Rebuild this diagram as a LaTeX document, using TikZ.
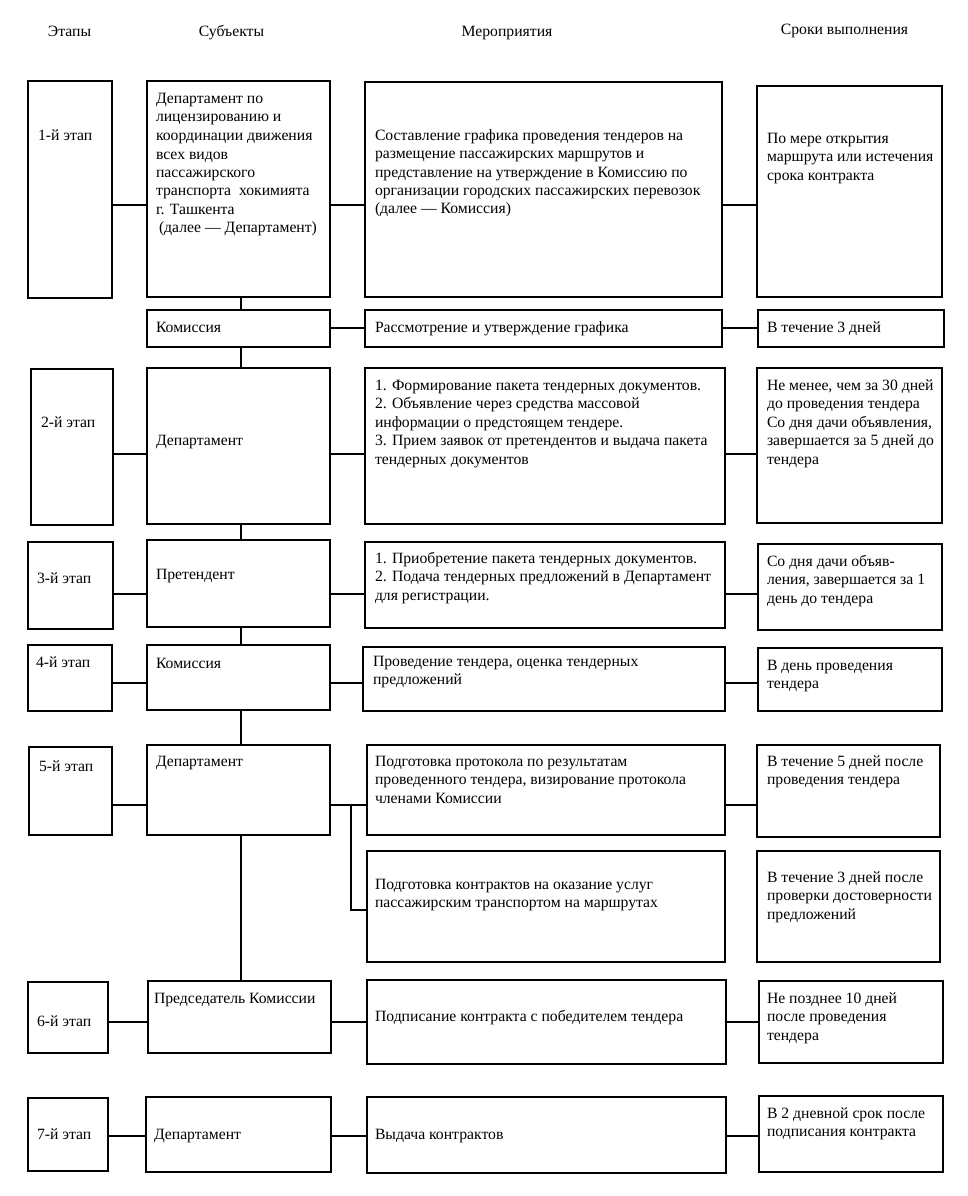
\documentclass[tikz,border=0pt]{standalone}
\usepackage{fontspec}
\setmainfont{Liberation Serif}
\newcommand\tl[1]{\begin{tabular}[t]{@{}l@{}}#1\end{tabular}}
\tikzset{
  bx/.style={draw, line width=2.2pt, rectangle, inner sep=0pt, outer sep=0pt, anchor=north west},
  tx/.style={inner sep=0pt, outer sep=0pt, anchor=base west, font=\fontsize{15.7}{18.5}\selectfont},
  hd/.style={inner sep=0pt, outer sep=0pt, anchor=base, font=\fontsize{15.7}{18.5}\selectfont},
  ln/.style={line width=2pt},
}
\newcommand\bx[5]{\node[bx, minimum width=#4-#2, minimum height=#5-#3] (#1) at (#2,#3) {};}
\begin{document}
\begin{tikzpicture}[x=1pt,y=-1pt]
\useasboundingbox (0,0) rectangle (967,1196);
% headers
\node[hd] (h1) at (69.5,37) {Этапы};
\node[hd] (h2) at (231.5,37) {Субъекты};
\node[hd] (h3) at (507,37) {Мероприятия};
\node[hd] (h4) at (844.5,35) {Сроки выполнения};
% boxes
\bx{st1}{28}{81}{112}{298}
\bx{su1}{147}{81}{330}{297}
\bx{ac1}{365}{82}{722}{297}
\bx{ti1}{757}{86}{942}{297}
\bx{suk}{147}{310}{330}{347}
\bx{ack}{365}{310}{722}{347}
\bx{tik}{758}{310}{944}{347}
\bx{st2}{31}{369}{113}{525}
\bx{su2}{147}{368}{330}{524}
\bx{ac2}{365}{368}{725}{524}
\bx{ti2}{757}{368}{942}{523}
\bx{st3}{28}{542}{113}{629}
\bx{su3}{147}{540}{330}{627}
\bx{ac3}{365}{542}{725}{628}
\bx{ti3}{758}{544}{942}{630}
\bx{st4}{28}{645}{112}{711}
\bx{su4}{147}{645}{330}{710}
\bx{ac4}{363}{647}{725}{711}
\bx{ti4}{758}{648}{942}{711}
\bx{st5}{29}{747}{112}{835}
\bx{su5}{147}{745}{330}{835}
\bx{aca}{367}{745}{725}{835}
\bx{tia}{757}{745}{940}{837}
\bx{acb}{367}{851}{725}{962}
\bx{tib}{757}{851}{940}{962}
\bx{st6}{28}{982}{108}{1053}
\bx{su6}{148}{981}{331}{1053}
\bx{ac6}{367}{980}{726}{1064}
\bx{ti6}{759}{981}{943}{1063}
\bx{st7}{28}{1098}{108}{1171}
\bx{su7}{146}{1097}{331}{1172}
\bx{ac7}{367}{1097}{726}{1173}
\bx{ti7}{759}{1096}{943}{1172}
% texts
\node[tx] (st1t) at (38,141) {1-й этап};
\node[tx] (su1t) at (156,103.5) {\tl{Департамент по\\лицензированию и\\координации движения\\всех видов\\пассажирского\\транспорта \ хокимията\\г. Ташкента\\\hspace{3pt}(далее — Департамент)}};
\node[tx] (ac1t) at (375,140) {\tl{Составление графика проведения тендеров на\\размещение пассажирских маршрутов и\\представление на утверждение в Комиссию по\\организации городских пассажирских перевозок\\(далее — Комиссия)}};
\node[tx] (ti1t) at (767,143) {\tl{По мере открытия\\маршрута или истечения\\срока контракта}};
\node[tx] (sukt) at (156,332) {Комиссия};
\node[tx] (ackt) at (375,332) {Рассмотрение и утверждение графика};
\node[tx] (tikt) at (767,332) {В течение 3 дней};
\node[tx] (st2t) at (41,427) {2-й этап};
\node[tx] (su2t) at (156,445) {Департамент};
\node[tx] (ac2t) at (375,390) {\tl{1. Формирование пакета тендерных документов.\\2. Объявление через средства массовой\\информации о предстоящем тендере.\\3. Прием заявок от претендентов и выдача пакета\\тендерных документов}};
\node[tx] (ti2t) at (767,390) {\tl{Не менее, чем за 30 дней\\до проведения тендера\\Со дня дачи объявления,\\завершается за 5 дней до\\тендера}};
\node[tx] (st3t) at (37,583) {3-й этап};
\node[tx] (su3t) at (156,579) {Претендент};
\node[tx] (ac3t) at (375,563) {\tl{1. Приобретение пакета тендерных документов.\\2. Подача тендерных предложений в Департамент\\для регистрации.}};
\node[tx] (ti3t) at (767,566) {\tl{Со дня дачи объяв-\\ления, завершается за 1\\день до тендера}};
\node[tx] (st4t) at (36,667) {4-й этап};
\node[tx] (su4t) at (156,668) {Комиссия};
\node[tx] (ac4t) at (373,666) {\tl{Проведение тендера, оценка тендерных\\предложений}};
\node[tx] (ti4t) at (767,670) {\tl{В день проведения\\тендера}};
\node[tx] (st5t) at (39,771) {5-й этап};
\node[tx] (su5t) at (156,766) {Департамент};
\node[tx] (acat) at (375,766) {\tl{Подготовка протокола по результатам\\проведенного тендера, визирование протокола\\членами Комиссии}};
\node[tx] (tiat) at (767,766) {\tl{В течение 5 дней после\\проведения тендера}};
\node[tx] (acbt) at (375,889) {\tl{Подготовка контрактов на оказание услуг\\пассажирским транспортом на маршрутах}};
\node[tx] (tibt) at (767,882) {\tl{В течение 3 дней после\\проверки достоверности\\предложений}};
\node[tx] (st6t) at (37,1026) {6-й этап};
\node[tx] (su6t) at (154,1003) {Председатель Комиссии};
\node[tx] (ac6t) at (375,1021) {Подписание контракта с победителем тендера};
\node[tx] (ti6t) at (767,1003) {\tl{Не позднее 10 дней\\после проведения\\тендера}};
\node[tx] (st7t) at (37,1139) {7-й этап};
\node[tx] (su7t) at (154,1139) {Департамент};
\node[tx] (ac7t) at (375,1139) {Выдача контрактов};
\node[tx] (ti7t) at (767,1118) {\tl{В 2 дневной срок после\\подписания контракта}};
% connector levels
\coordinate (r1) at (0,205);
\coordinate (rk) at (0,328);
\coordinate (r2) at (0,454);
\coordinate (r3) at (0,594);
\coordinate (r4) at (0,683);
\coordinate (r5) at (0,805);
\coordinate (r5b) at (0,910);
\coordinate (r6) at (0,1022);
\coordinate (r7) at (0,1136);
\coordinate (sp) at (241,0);
\coordinate (bp) at (351,0);
% horizontal connectors
\draw[ln] (st1.east |- r1) -- (su1.west |- r1);
\draw[ln] (su1.east |- r1) -- (ac1.west |- r1);
\draw[ln] (ac1.east |- r1) -- (ti1.west |- r1);
\draw[ln] (suk.east |- rk) -- (ack.west |- rk);
\draw[ln] (ack.east |- rk) -- (tik.west |- rk);
\draw[ln] (st2.east |- r2) -- (su2.west |- r2);
\draw[ln] (su2.east |- r2) -- (ac2.west |- r2);
\draw[ln] (ac2.east |- r2) -- (ti2.west |- r2);
\draw[ln] (st3.east |- r3) -- (su3.west |- r3);
\draw[ln] (su3.east |- r3) -- (ac3.west |- r3);
\draw[ln] (ac3.east |- r3) -- (ti3.west |- r3);
\draw[ln] (st4.east |- r4) -- (su4.west |- r4);
\draw[ln] (su4.east |- r4) -- (ac4.west |- r4);
\draw[ln] (ac4.east |- r4) -- (ti4.west |- r4);
\draw[ln] (st5.east |- r5) -- (su5.west |- r5);
\draw[ln] (su5.east |- r5) -- (aca.west |- r5);
\draw[ln] (aca.east |- r5) -- (tia.west |- r5);
\draw[ln] (bp |- r5) -- (bp |- r5b) -- (acb.west |- r5b);
\draw[ln] (st6.east |- r6) -- (su6.west |- r6);
\draw[ln] (su6.east |- r6) -- (ac6.west |- r6);
\draw[ln] (ac6.east |- r6) -- (ti6.west |- r6);
\draw[ln] (st7.east |- r7) -- (su7.west |- r7);
\draw[ln] (su7.east |- r7) -- (ac7.west |- r7);
\draw[ln] (ac7.east |- r7) -- (ti7.west |- r7);
% vertical spine
\draw[ln] (su1.south -| sp) -- (suk.north -| sp);
\draw[ln] (suk.south -| sp) -- (su2.north -| sp);
\draw[ln] (su2.south -| sp) -- (su3.north -| sp);
\draw[ln] (su3.south -| sp) -- (su4.north -| sp);
\draw[ln] (su4.south -| sp) -- (su5.north -| sp);
\draw[ln] (su5.south -| sp) -- (su6.north -| sp);
\end{tikzpicture}
\end{document}
